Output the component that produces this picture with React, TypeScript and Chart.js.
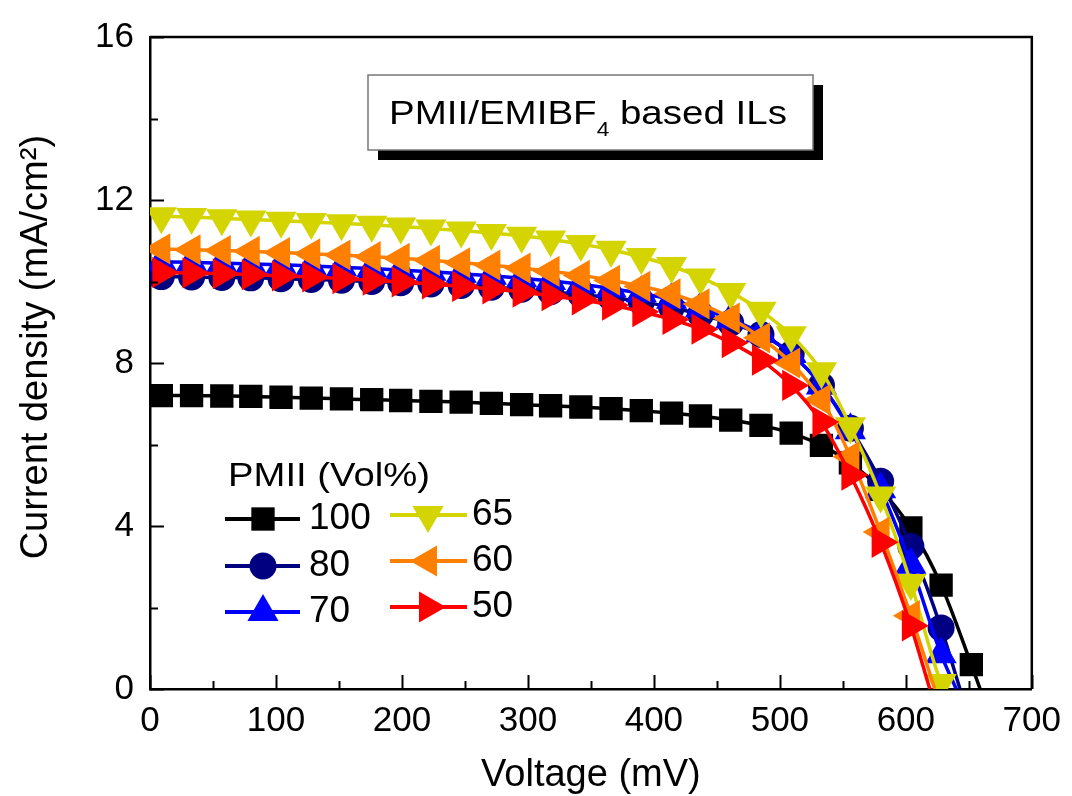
import React, { useEffect, useRef } from 'react';
import { Chart, registerables } from 'chart.js';
import { drawPoint } from 'chart.js/helpers';

Chart.register(...registerables);

const FONT = '"Liberation Sans", Arial, sans-serif';

// Voltage grid of measured points (mV)
const voltage = [9, 33, 57, 80, 104, 128, 152, 176, 199, 223, 247, 271, 295, 318, 342, 366, 390, 414, 437, 461, 485, 509, 533, 556, 580, 604, 628, 652];

// Series labels (PMII vol%)
const seriesLabels = ['100', '80', '70', '65', '60', '50'];

// Current density (mA/cm2)
const j100 = [7.20, 7.20, 7.19, 7.18, 7.16, 7.14, 7.12, 7.10, 7.08, 7.06, 7.04, 7.01, 6.98, 6.95, 6.92, 6.88, 6.83, 6.77, 6.70, 6.60, 6.47, 6.28, 5.98, 5.55, 4.90, 3.95, 2.55, 0.60];
const j80 = [10.12, 10.11, 10.10, 10.09, 10.07, 10.05, 10.03, 10.00, 9.97, 9.94, 9.90, 9.86, 9.81, 9.75, 9.68, 9.60, 9.50, 9.37, 9.19, 8.98, 8.70, 8.22, 7.45, 6.40, 5.10, 3.50, 1.50];
const j70 = [10.48, 10.47, 10.45, 10.43, 10.41, 10.38, 10.35, 10.32, 10.28, 10.24, 10.19, 10.14, 10.08, 10.01, 9.93, 9.83, 9.71, 9.55, 9.34, 9.07, 8.73, 8.22, 7.45, 6.35, 4.90, 3.05, 0.85];
const j65 = [11.60, 11.58, 11.55, 11.52, 11.49, 11.46, 11.43, 11.39, 11.35, 11.30, 11.25, 11.19, 11.12, 11.03, 10.92, 10.78, 10.60, 10.38, 10.10, 9.74, 9.28, 8.68, 7.80, 6.45, 4.75, 2.60, 0.15];
const j60 = [10.80, 10.78, 10.76, 10.74, 10.71, 10.68, 10.65, 10.61, 10.57, 10.52, 10.46, 10.40, 10.33, 10.25, 10.15, 10.03, 9.88, 9.70, 9.45, 9.10, 8.62, 8.00, 7.10, 5.70, 3.85, 1.80];
const j50 = [10.22, 10.21, 10.19, 10.17, 10.14, 10.11, 10.07, 10.03, 9.99, 9.94, 9.88, 9.82, 9.74, 9.65, 9.55, 9.42, 9.26, 9.07, 8.83, 8.50, 8.07, 7.45, 6.55, 5.25, 3.60, 1.55];

// Open-circuit voltage where each fitted line meets J = 0 (mV)
const vocs = [659, 643, 640, 631, 623, 619];

const seriesValues = [j100, j80, j70, j65, j60, j50];
const colors = ['#000000', '#000080', '#0000FF', '#D4D400', '#FF8000', '#FF0000'];
const pointStyles = ['rect', 'circle', 'triangle', 'triangle', 'triangle', 'triangle'];
const rotations = [0, 0, 0, 180, 270, 90];
const radii = [16.5, 13.5, 18, 18, 18, 18];

const xTicks = { min: 0, max: 700, major: 100, minor: 50 };
const yTicks = { min: 0, max: 16, major: 4, minor: 2 };

const decorPlugin = {
  id: 'decor',
  afterDraw(chart: any) {
    const { ctx, chartArea } = chart;
    const { left, right, top, bottom } = chartArea;
    const xs = chart.scales.x;
    const ys = chart.scales.y;
    ctx.save();
    ctx.strokeStyle = '#000';
    ctx.lineWidth = 2.5;
    ctx.beginPath();
    ctx.moveTo(left, top);
    ctx.lineTo(right, top);
    ctx.lineTo(right, bottom);
    ctx.stroke();
    // inward ticks
    ctx.lineWidth = 2;
    ctx.beginPath();
    for (let v = xTicks.min; v <= xTicks.max; v += xTicks.minor) {
      const px = Math.round(xs.getPixelForValue(v)) + 0.5;
      const len = v % xTicks.major === 0 ? 14 : 8;
      ctx.moveTo(px, bottom);
      ctx.lineTo(px, bottom - len);
    }
    for (let v = yTicks.min; v <= yTicks.max; v += yTicks.minor) {
      const py = Math.round(ys.getPixelForValue(v)) + 0.5;
      const len = v % yTicks.major === 0 ? 14 : 8;
      ctx.moveTo(left, py);
      ctx.lineTo(left + len, py);
    }
    ctx.stroke();

    // Inset text box with shadow
    const bx = 368, by = 75, bw = 445, bh = 75;
    ctx.fillStyle = '#000';
    ctx.fillRect(bx + 10, by + 10, bw, bh);
    ctx.fillStyle = '#fff';
    ctx.fillRect(bx, by, bw, bh);
    ctx.strokeStyle = '#777';
    ctx.lineWidth = 1.5;
    ctx.strokeRect(bx, by, bw, bh);

    ctx.fillStyle = '#000';
    ctx.textBaseline = 'alphabetic';
    ctx.textAlign = 'left';
    const mainFont = `34px ${FONT}`;
    const subFont = `20px ${FONT}`;
    ctx.font = mainFont;
    const t1 = 'PMII/EMIBF';
    const t3 = ' based ILs';
    const w1 = ctx.measureText(t1).width;
    const w3 = ctx.measureText(t3).width;
    ctx.font = subFont;
    const w2 = ctx.measureText('4').width;
    const sx = 398 / (w1 + w2 + w3);
    ctx.save();
    ctx.translate(389, 124);
    ctx.scale(sx, 1);
    ctx.font = mainFont;
    ctx.fillText(t1, 0, 0);
    ctx.font = subFont;
    ctx.fillText('4', w1, 12);
    ctx.font = mainFont;
    ctx.fillText(t3, w1 + w2, 0);
    ctx.restore();

    // Legend
    const title = 'PMII (Vol%)';
    ctx.font = `33px ${FONT}`;
    const tw = ctx.measureText(title).width;
    ctx.save();
    ctx.translate(228, 486);
    ctx.scale(202 / tw, 1);
    ctx.fillText(title, 0, 0);
    ctx.restore();

    const cols = [
      { lineX0: 225, lineX1: 300, markX: 263, textX: 309, rows: [519, 566, 612] },
      { lineX0: 390, lineX1: 467, markX: 428, textX: 472, rows: [515, 561, 607] },
    ];
    seriesLabels.forEach((lab, i) => {
      const col = cols[Math.floor(i / 3)];
      const y = col.rows[i % 3];
      ctx.strokeStyle = colors[i];
      ctx.fillStyle = colors[i];
      ctx.lineWidth = 4;
      ctx.beginPath();
      ctx.moveTo(col.lineX0, y);
      ctx.lineTo(col.lineX1, y);
      ctx.stroke();
      drawPoint(ctx, { pointStyle: pointStyles[i], radius: radii[i], rotation: rotations[i], borderWidth: 0 } as any, col.markX, y);
      ctx.fillStyle = '#000';
      ctx.font = `37px ${FONT}`;
      ctx.textBaseline = 'middle';
      ctx.fillText(lab, col.textX, y);
    });
    ctx.restore();
  },
};

export default function App() {
  const ref = useRef<HTMLCanvasElement | null>(null);
  useEffect(() => {
    if (!ref.current) return;
    const datasets = seriesValues.map((vals, i) => {
      const pts = vals.map((j, k) => ({ x: voltage[k], y: j }));
      pts.push({ x: vocs[i], y: 0 });
      const rad = pts.map((_, k) => (k === pts.length - 1 ? 0 : radii[i]));
      return {
        label: seriesLabels[i],
        data: pts,
        borderColor: colors[i],
        backgroundColor: colors[i],
        borderWidth: 3.5,
        pointStyle: pointStyles[i],
        pointRotation: rotations[i],
        pointRadius: rad,
        pointHoverRadius: rad,
        pointBorderWidth: 0,
        pointBackgroundColor: colors[i],
        pointBorderColor: colors[i],
        tension: 0.4,
        cubicInterpolationMode: 'monotone',
        fill: false,
        order: 6 - i,
      };
    });
    const chart = new Chart(ref.current, {
      type: 'line',
      data: { datasets } as any,
      plugins: [decorPlugin],
      options: {
        animation: false,
        responsive: false,
        devicePixelRatio: 1,
        events: [],
        layout: { padding: { left: 0, right: 36, top: 33, bottom: 0 } },
        plugins: { legend: { display: false }, tooltip: { enabled: false } },
        scales: {
          x: {
            type: 'linear',
            min: xTicks.min,
            max: xTicks.max,
            grid: { display: false, drawTicks: false },
            border: { display: true, color: '#000', width: 2.5 },
            ticks: { stepSize: xTicks.major, color: '#000', padding: 11, font: { size: 35, family: FONT } },
            title: { display: true, text: 'Voltage (mV)', color: '#000', font: { size: 38, family: FONT, lineHeight: 1 }, padding: { top: 1, bottom: 1 } },
            afterFit: (s: any) => { s.height = 107; },
          },
          y: {
            type: 'linear',
            min: yTicks.min,
            max: yTicks.max,
            grid: { display: false, drawTicks: false },
            border: { display: true, color: '#000', width: 2.5 },
            ticks: { stepSize: yTicks.major, color: '#000', padding: 16, font: { size: 35, family: FONT } },
            title: { display: true, text: '   Current density (mA/cm²)', color: '#000', font: { size: 38, family: FONT, lineHeight: 1 }, padding: { top: 18, bottom: 18 } },
            afterFit: (s: any) => { s.width = 150; },
          },
        },
      } as any,
    });
    return () => chart.destroy();
  }, []);
  return (
    <div style={{ position: 'fixed', left: 0, top: 0, width: 1072, height: 796, background: '#fff' }}>
      <canvas ref={ref} width={1072} height={796} style={{ display: 'block' }} />
    </div>
  );
}
